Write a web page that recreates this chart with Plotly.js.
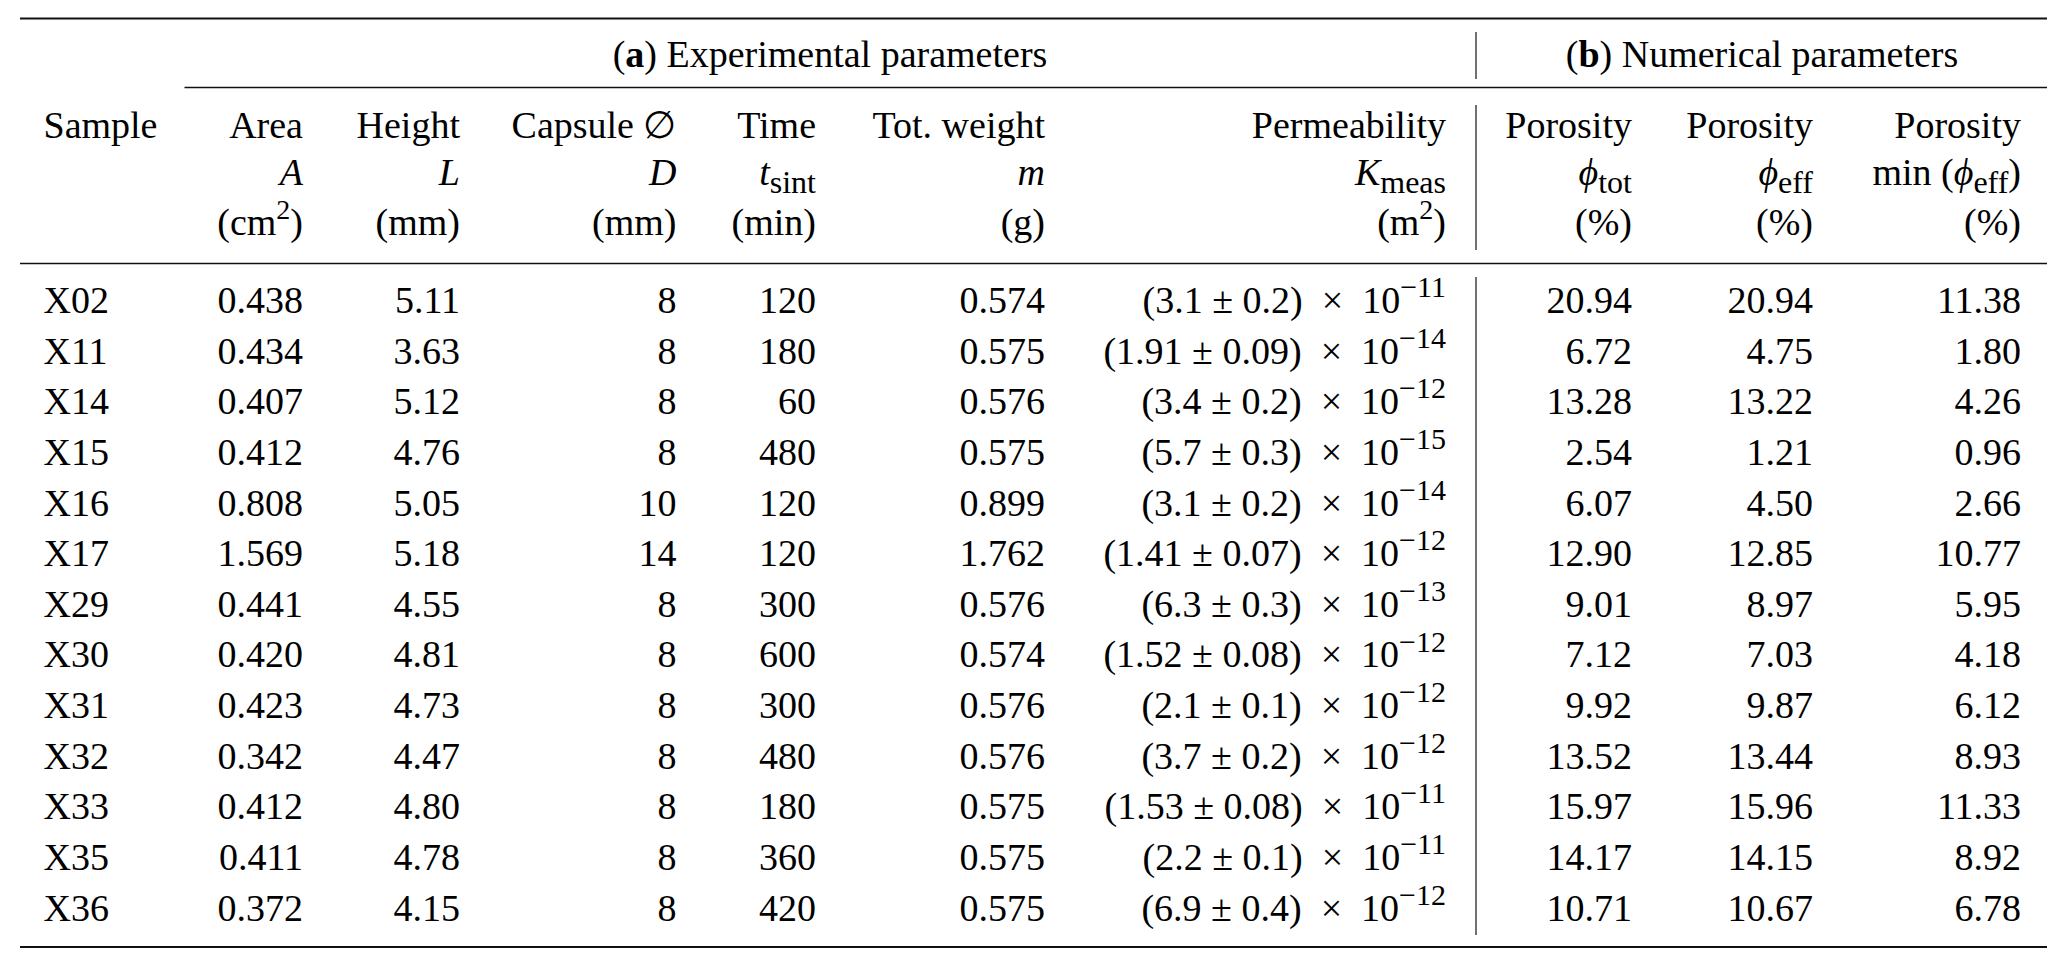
<!DOCTYPE html>
<html>
<head>
<meta charset="utf-8">
<script src="https://cdn.plot.ly/plotly-3.0.1.min.js"></script>
<style>html,body{margin:0;padding:0;background:#fff;}#chart{width:2067px;height:968px;}</style>
</head>
<body>
<div id="chart"></div>
<script>
// ---------------- data ----------------
const samples  = ['X02','X11','X14','X15','X16','X17','X29','X30','X31','X32','X33','X35','X36'];
const area     = [0.438,0.434,0.407,0.412,0.808,1.569,0.441,0.420,0.423,0.342,0.412,0.411,0.372];
const heightL  = [5.11,3.63,5.12,4.76,5.05,5.18,4.55,4.81,4.73,4.47,4.80,4.78,4.15];
const capsule  = [8,8,8,8,10,14,8,8,8,8,8,8,8];
const timeSint = [120,180,60,480,120,120,300,600,300,480,180,360,420];
const weight   = [0.574,0.575,0.576,0.575,0.899,1.762,0.576,0.574,0.576,0.576,0.575,0.575,0.575];
const permMant = ['3.1','1.91','3.4','5.7','3.1','1.41','6.3','1.52','2.1','3.7','1.53','2.2','6.9'];
const permErr  = ['0.2','0.09','0.2','0.3','0.2','0.07','0.3','0.08','0.1','0.2','0.08','0.1','0.4'];
const permExp  = [-11,-14,-12,-15,-14,-12,-13,-12,-12,-12,-11,-11,-12];
const phiTot   = [20.94,6.72,13.28,2.54,6.07,12.90,9.01,7.12,9.92,13.52,15.97,14.17,10.71];
const phiEff   = [20.94,4.75,13.22,1.21,4.50,12.85,8.97,7.03,9.87,13.44,15.96,14.15,10.67];
const phiMin   = [11.38,1.80,4.26,0.96,2.66,10.77,5.95,4.18,6.12,8.93,11.33,8.92,6.78];

const sub = t => '<sub><span style="font-size:32px">' + t + '</span></sub>';
const sup = t => '<sup><span style="font-size:28px">' + t + '</span></sup>';
const PHI = '\u03D5';

const headLine1 = ['Area','Height','Capsule \u2205','Time','Tot. weight','Permeability','Porosity','Porosity','Porosity'];
const headLine2 = ['<i>A</i>','<i>L</i>','<i>D</i>','<i>t</i>' + sub('sint'),'<i>m</i>','<i>K</i>' + sub('meas'),
                   '<i>' + PHI + '</i>' + sub('tot'),'<i>' + PHI + '</i>' + sub('eff'),'min (<i>' + PHI + '</i>' + sub('eff') + ')'];
const headLine3 = ['(cm' + sup('2') + ')','(mm)','(mm)','(min)','(g)','(m' + sup('2') + ')','(%)','(%)','(%)'];
const sampleHead = 'Sample';
const groupHeads = ['(<b>a</b>) Experimental parameters','(<b>b</b>) Numerical parameters'];

// ---------------- layout constants ----------------
const W = 2067, H = 968;
const FS = 38;
const FONT = 'Liberation Serif, Times New Roman, Times, serif';
const colRight = [303, 460, 676.5, 816, 1045, 1446, 1632, 1813, 2021];
const sampleLeft = 43.5;
const groupCenter = [830, 1762];
// row units: row i sits at y = i
const ROW_PITCH = 50.64, ROW0_PIX = 313 - FS * 0.25;
const pix2v = p => (p - ROW0_PIX) / ROW_PITCH;
const yHead1 = pix2v(138 - FS*0.25), yHead2 = pix2v(185 - FS*0.25), yHead3 = pix2v(235 - FS*0.25);
const yGroup = pix2v(67 - FS*0.25);

const rowIdx = samples.map((_, i) => i);
const fmt = (arr, d) => arr.map(v => v.toFixed(d));
const permText = permMant.map((m, i) =>
  '(' + m + ' \u00B1 ' + permErr[i] + ')\u2002\u00D7\u200210' +
  '<sup><span style="font-size:30px">\u2212' + Math.abs(permExp[i]) + '</span></sup>');

const colTexts = [fmt(area,3), fmt(heightL,2), fmt(capsule,0), fmt(timeSint,0), fmt(weight,3),
                  permText, fmt(phiTot,2), fmt(phiEff,2), fmt(phiMin,2)];

function textTrace(xs, ys, texts, pos) {
  return {
    type: 'scatter', mode: 'text', x: xs, y: ys, text: texts,
    textposition: pos, cliponaxis: false, hoverinfo: 'skip', showlegend: false,
    textfont: {family: FONT, size: FS, color: '#000'}
  };
}

const traces = [];
traces.push(textTrace(rowIdx.map(() => sampleLeft), rowIdx, samples, 'middle right'));
traces.push(textTrace([sampleLeft], [yHead1], [sampleHead], 'middle right'));
colTexts.forEach((txt, c) => {
  traces.push(textTrace(rowIdx.map(() => colRight[c]), rowIdx, txt, 'middle left'));
});
traces.push(textTrace(colRight, colRight.map(() => yHead1), headLine1, 'middle left'));
traces.push(textTrace(colRight, colRight.map(() => yHead2), headLine2, 'middle left'));
traces.push(textTrace(colRight, colRight.map(() => yHead3), headLine3, 'middle left'));
traces.push(textTrace(groupCenter, [yGroup, yGroup], groupHeads, 'middle center'));

// rules
const RULE = '#111';
function hline(p, x0, x1, w) {
  return {type: 'line', xref: 'x', yref: 'y', x0: x0, x1: x1, y0: pix2v(p), y1: pix2v(p),
          line: {color: RULE, width: w}};
}
function vline(x, p0, p1, w) {
  return {type: 'line', xref: 'x', yref: 'y', x0: x, x1: x, y0: pix2v(p0), y1: pix2v(p1),
          line: {color: RULE, width: w}};
}
const shapes = [
  hline(18.5, 20, 2047, 2),
  hline(87.5, 184.5, 2047, 1.3),
  hline(263.5, 20, 2047, 1.6),
  hline(947, 20, 2047, 2),
  vline(1476, 32, 79, 1.2),
  vline(1476, 105, 250, 1.2),
  vline(1476, 277, 935, 1.2)
];

const layout = {
  width: W, height: H,
  margin: {l: 0, r: 0, t: 0, b: 0, pad: 0},
  paper_bgcolor: '#fff', plot_bgcolor: '#fff',
  showlegend: false,
  font: {family: FONT, size: FS, color: '#000'},
  xaxis: {range: [0, W], visible: false, fixedrange: true},
  yaxis: {range: [pix2v(H), pix2v(0)], visible: false, fixedrange: true},
  shapes: shapes
};

Plotly.newPlot('chart', traces, layout, {staticPlot: true, displayModeBar: false});
</script>
</body>
</html>
